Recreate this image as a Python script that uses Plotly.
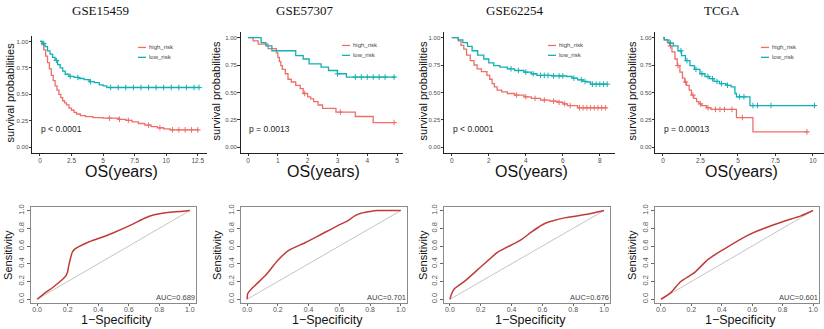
import plotly.graph_objects as go

# ---------------- data ----------------
TITLES = ["GSE15459", "GSE57307", "GSE62254", "TCGA"]
PVALS = ["p < 0.0001", "p = 0.0013", "p < 0.0001", "p = 0.00013"]
AUCS = ["AUC=0.689", "AUC=0.701", "AUC=0.676", "AUC=0.601"]
GROUPS = ["high_risk", "low_risk"]

KM_XTICKS = [[0, 2.5, 5, 7.5, 10, 12.5], [0, 1, 2, 3, 4, 5], [0, 2, 4, 6, 8], [0, 2.5, 5, 7.5, 10]]
KM_XTICKTEXT = [["0", "2.5", "5", "7.5", "10", "12.5"], ["0", "1", "2", "3", "4", "5"],
                ["0", "2", "4", "6", "8"], ["0", "2.5", "5", "7.5", "10"]]
KM_YTICKS = [0, 0.25, 0.5, 0.75, 1.0]
KM_YTICKTEXT = ["0.00", "0.25", "0.50", "0.75", "1.00"]
ROC_TICKS = [0, 0.2, 0.4, 0.6, 0.8, 1.0]
ROC_TICKTEXT = ["0.0", "0.2", "0.4", "0.6", "0.8", "1.0"]
DIAG = [0, 1]

# GSE15459
g1_high_t = [0, 0.15, 0.3, 0.45, 0.6, 0.75, 0.9, 1.05, 1.2, 1.35, 1.5, 1.65, 1.8, 1.95, 2.1, 2.3, 2.5, 2.7,
             2.9, 3.2, 3.6, 4.2, 5.0, 6.2, 6.8, 7.3, 7.8, 8.3, 8.8, 9.3, 9.8, 10.3, 12.6]
g1_high_s = [1.0, 0.97, 0.92, 0.86, 0.80, 0.74, 0.68, 0.63, 0.58, 0.54, 0.50, 0.47, 0.44, 0.42, 0.40, 0.37,
             0.35, 0.33, 0.315, 0.30, 0.29, 0.28, 0.275, 0.265, 0.255, 0.24, 0.225, 0.21, 0.195, 0.185,
             0.175, 0.165, 0.165]
g1_high_c = [5.5, 6.3, 7.0, 8.6, 9.5, 10.5, 11.0, 11.5, 12.0, 12.5]
g1_low_t = [0, 0.2, 0.4, 0.6, 0.8, 1.0, 1.2, 1.4, 1.6, 1.8, 2.0, 2.3, 2.7, 3.1, 3.5, 3.9, 4.3, 4.7, 5.0, 5.3, 12.6]
g1_low_s = [1.0, 0.98, 0.95, 0.91, 0.88, 0.85, 0.82, 0.78, 0.75, 0.72, 0.69, 0.67, 0.66, 0.65, 0.64, 0.62,
            0.61, 0.59, 0.58, 0.565, 0.565]
g1_low_c = [0.3, 1.3, 2.4, 3.0, 4.0, 5.6, 6.2, 6.8, 7.4, 8.0, 8.6, 9.2, 9.8, 10.4, 11.0, 11.6, 12.2, 12.6]

# GSE57307
g2_high_t = [0, 0.17, 0.34, 0.67, 0.95, 1.0, 1.05, 1.1, 1.15, 1.25, 1.34, 1.45, 1.6, 1.75, 1.85, 2.0, 2.1,
             2.2, 2.35, 2.5, 2.95, 3.6, 4.2, 4.95]
g2_high_s = [1.0, 0.97, 0.94, 0.90, 0.86, 0.82, 0.78, 0.745, 0.71, 0.67, 0.62, 0.595, 0.565, 0.535, 0.49,
             0.46, 0.44, 0.415, 0.385, 0.355, 0.32, 0.28, 0.225, 0.225]
g2_high_c = [1.9, 3.1, 4.9]
g2_low_t = [0, 0.44, 0.6, 0.8, 1.6, 1.85, 2.05, 2.45, 2.7, 3.0, 3.3, 4.95]
g2_low_s = [1.0, 0.955, 0.925, 0.88, 0.835, 0.805, 0.76, 0.73, 0.70, 0.67, 0.64, 0.64]
g2_low_c = [3.0, 3.6, 3.8, 4.0, 4.2, 4.4, 4.6, 4.9]

# GSE62254
g3_high_t = [0, 0.35, 0.5, 0.65, 0.8, 1.0, 1.2, 1.37, 1.6, 1.9, 2.05, 2.18, 2.3, 2.45, 2.7, 3.0, 3.4, 3.9,
             4.3, 4.8, 5.3, 5.7, 6.0, 6.25, 6.8, 8.4]
g3_high_s = [1.0, 0.97, 0.93, 0.895, 0.84, 0.79, 0.75, 0.715, 0.69, 0.655, 0.62, 0.58, 0.55, 0.52, 0.505,
             0.49, 0.475, 0.46, 0.445, 0.43, 0.42, 0.41, 0.395, 0.38, 0.36, 0.36]
g3_high_c = [3.5, 4.0, 4.5, 5.0, 5.5, 5.8, 6.1, 6.4, 6.9, 7.1, 7.3, 7.5, 7.7, 7.9, 8.1, 8.3]
g3_low_t = [0, 0.35, 0.6, 0.85, 1.1, 1.4, 1.73, 2.0, 2.27, 2.6, 3.0, 3.4, 3.9, 4.3, 4.6, 5.4, 6.2, 6.5,
            6.8, 7.1, 7.3, 7.5, 8.4]
g3_low_s = [1.0, 0.98, 0.955, 0.92, 0.88, 0.84, 0.805, 0.77, 0.745, 0.73, 0.715, 0.70, 0.685, 0.67, 0.655,
            0.65, 0.645, 0.63, 0.615, 0.60, 0.595, 0.575, 0.575]
g3_low_c = [3.2, 3.6, 4.0, 4.4, 4.8, 5.0, 5.2, 5.5, 5.8, 6.0, 6.6, 7.0, 7.2, 7.6, 7.8, 8.0, 8.2, 8.4]

# TCGA
g4_high_t = [0, 0.09, 0.3, 0.45, 0.6, 0.8, 0.95, 1.13, 1.3, 1.45, 1.57, 1.75, 1.9, 2.05, 2.24, 2.4, 2.58,
             2.9, 3.2, 4.9, 6.0, 9.7]
g4_high_s = [1.0, 0.98, 0.955, 0.925, 0.87, 0.805, 0.745, 0.685, 0.63, 0.595, 0.565, 0.52, 0.475, 0.445,
             0.415, 0.395, 0.38, 0.36, 0.345, 0.27, 0.14, 0.14]
g4_high_c = [0.5, 1.0, 1.5, 2.0, 2.5, 3.0, 3.5, 3.8, 4.1, 4.6, 5.3, 9.6]
g4_low_t = [0, 0.09, 0.4, 0.7, 1.0, 1.24, 1.5, 1.8, 2.1, 2.47, 2.8, 3.1, 3.4, 3.77, 4.2, 4.55, 4.8, 4.9,
            5.8, 10.2]
g4_low_s = [1.0, 0.98, 0.95, 0.925, 0.88, 0.835, 0.79, 0.745, 0.71, 0.67, 0.645, 0.625, 0.60, 0.58, 0.565,
            0.55, 0.49, 0.46, 0.38, 0.38]
g4_low_c = [0.5, 1.2, 1.6, 2.2, 2.6, 3.0, 3.3, 3.6, 3.9, 4.3, 5.1, 5.4, 6.0, 6.3, 7.2, 10.1]

KM = [
    [(g1_high_t, g1_high_s, g1_high_c), (g1_low_t, g1_low_s, g1_low_c)],
    [(g2_high_t, g2_high_s, g2_high_c), (g2_low_t, g2_low_s, g2_low_c)],
    [(g3_high_t, g3_high_s, g3_high_c), (g3_low_t, g3_low_s, g3_low_c)],
    [(g4_high_t, g4_high_s, g4_high_c), (g4_low_t, g4_low_s, g4_low_c)],
]

# ROC curves (1-specificity, sensitivity)
roc1_x = [0, 0.05, 0.1, 0.15, 0.186, 0.2, 0.207, 0.22, 0.23, 0.25, 0.27, 0.33, 0.41, 0.5, 0.63, 0.7, 0.76, 0.82, 0.87, 0.94, 1.0]
roc1_y = [0, 0.07, 0.13, 0.2, 0.26, 0.31, 0.38, 0.47, 0.53, 0.57, 0.59, 0.64, 0.69, 0.75, 0.85, 0.91, 0.95, 0.97, 0.98, 0.99, 1.0]
roc2_x = [0, 0.003, 0.03, 0.12, 0.2, 0.27, 0.38, 0.48, 0.59, 0.65, 0.7, 0.74, 0.8, 0.85, 1.0]
roc2_y = [0, 0.06, 0.12, 0.27, 0.44, 0.55, 0.64, 0.73, 0.83, 0.88, 0.94, 0.97, 0.99, 1.0, 1.0]
roc3_x = [0, 0.01, 0.03, 0.1, 0.21, 0.31, 0.42, 0.47, 0.53, 0.6, 0.64, 0.75, 0.9, 1.0]
roc3_y = [0, 0.06, 0.12, 0.21, 0.38, 0.53, 0.63, 0.68, 0.76, 0.84, 0.87, 0.92, 0.96, 1.0]
roc4_x = [0, 0.065, 0.13, 0.22, 0.31, 0.41, 0.57, 0.68, 0.81, 0.92, 1.0]
roc4_y = [0, 0.075, 0.2, 0.3, 0.45, 0.56, 0.72, 0.80, 0.88, 0.94, 1.0]
ROC = [(roc1_x, roc1_y), (roc2_x, roc2_y), (roc3_x, roc3_y), (roc4_x, roc4_y)]

# ---------------- layout helpers ----------------
W, H = 824, 329
def PX(x): return x / W
def PY(y): return 1 - y / H

RED, TEAL = "#EC6F68", "#12B0B3"
ROC_RED = "#C23A3A"
SANS = "Liberation Sans, Arial, sans-serif"
SERIF = "Liberation Serif, Times New Roman, serif"

km_dom_x = [(32, 207), (240.6, 403), (444, 615), (655.3, 823.6)]
km_dom_y = [(151.5, 33.5), (151.5, 29.5), (151.5, 29.5), (151.5, 29.5)]
km_xrange = [(-0.63, 13.23), (-0.25, 5.2), (-0.42, 8.82), (-0.51, 10.71)]
km_ytitle_x = [10, 216, 423, 632]
km_title_x = [100, 305, 515, 722]
leg_x = [138, 342, 548, 761]
leg_y = [45, 43, 43, 45]

roc_dom_x = [(31, 196), (241, 407), (443.8, 610.2), (654.9, 819.1)]
roc_dom_y = (303.5, 206.5)
roc_ytitle_x = [8, 217, 423, 632]

fig = go.Figure()
layout = dict(width=W, height=H, margin=dict(l=0, r=0, t=0, b=0), showlegend=False,
              plot_bgcolor="white", paper_bgcolor="white", font=dict(family=SANS))
annotations, shapes = [], []


def ann(text, x, y, size, color="#111", family=SANS, angle=0, xanchor="center", yanchor="middle",
        xref="paper", yref="paper"):
    return dict(text=text, x=x, y=y, xref=xref, yref=yref, showarrow=False, textangle=angle,
                xanchor=xanchor, yanchor=yanchor, borderpad=0,
                font=dict(family=family, size=size, color=color))


def step_value(ts, ss, c):
    v = ss[0]
    for t, s in zip(ts, ss):
        if t <= c:
            v = s
    return v


for i in range(4):
    xa, ya = f"x{2*i+1}", f"y{2*i+1}"
    xk, yk = f"xaxis{2*i+1}", f"yaxis{2*i+1}"
    for (ts, ss, cs), col in zip(KM[i], [RED, TEAL]):
        fig.add_trace(go.Scatter(x=ts, y=ss, mode="lines", line=dict(color=col, width=1.3, shape="hv"),
                                 xaxis=xa, yaxis=ya, hoverinfo="skip"))
        fig.add_trace(go.Scatter(x=cs, y=[step_value(ts, ss, c) for c in cs], mode="markers",
                                 marker=dict(symbol="cross-thin-open", size=4, color=col,
                                             line=dict(color=col, width=1)),
                                 xaxis=xa, yaxis=ya, hoverinfo="skip"))
    layout[xk] = dict(domain=[PX(km_dom_x[i][0]), PX(km_dom_x[i][1])], range=list(km_xrange[i]),
                      anchor=ya, showgrid=False, zeroline=False, showline=True, linecolor="#222",
                      linewidth=1, ticks="outside", ticklen=2.5, tickcolor="#333", ticklabelstandoff=-1,
                      tickvals=KM_XTICKS[i], ticktext=KM_XTICKTEXT[i],
                      tickfont=dict(size=6.5, color="#4d4d4d"))
    layout[yk] = dict(domain=[PY(km_dom_y[i][0]), PY(km_dom_y[i][1])], range=[-0.05, 1.05],
                      anchor=xa, showgrid=False, zeroline=False, showline=True, linecolor="#222",
                      linewidth=1, ticks="outside", ticklen=2.5, tickcolor="#333", ticklabelstandoff=-1,
                      tickvals=KM_YTICKS, ticktext=KM_YTICKTEXT,
                      tickfont=dict(size=6, color="#4d4d4d"))
    annotations.append(ann(TITLES[i], PX(km_title_x[i]), PY(8), 13, family=SERIF))
    annotations.append(ann("survival probabilities", PX(km_ytitle_x[i]),
                           PY((km_dom_y[i][0] + km_dom_y[i][1]) / 2 - 2), 11, angle=-90))
    annotations.append(ann("OS(years)", PX((km_dom_x[i][0] + km_dom_x[i][1]) / 2 + 2), PY(171), 16))
    annotations.append(ann(PVALS[i], 0, 0.17, 8.5, color="#222", xanchor="left", xref=xa, yref=ya))
    for j, (g, col) in enumerate(zip(GROUPS, [RED, TEAL])):
        yy = leg_y[i] + 10 * j
        shapes.append(dict(type="line", xref="paper", yref="paper", x0=PX(leg_x[i]), x1=PX(leg_x[i] + 8),
                           y0=PY(yy), y1=PY(yy), line=dict(color=col, width=1.3)))
        annotations.append(ann(g, PX(leg_x[i] + 10), PY(yy), 6, color="#444", xanchor="left"))

    # ROC panel
    xa2, ya2 = f"x{2*i+2}", f"y{2*i+2}"
    xk2, yk2 = f"xaxis{2*i+2}", f"yaxis{2*i+2}"
    fig.add_trace(go.Scatter(x=DIAG, y=DIAG, mode="lines", line=dict(color="#c4c4c4", width=1),
                             xaxis=xa2, yaxis=ya2, hoverinfo="skip"))
    fig.add_trace(go.Scatter(x=ROC[i][0], y=ROC[i][1], mode="lines",
                             line=dict(color=ROC_RED, width=1.5, shape="spline", smoothing=0.6),
                             xaxis=xa2, yaxis=ya2, hoverinfo="skip"))
    layout[xk2] = dict(domain=[PX(roc_dom_x[i][0]), PX(roc_dom_x[i][1])], range=[-0.04, 1.04],
                       anchor=ya2, showgrid=False, zeroline=False, showline=True, mirror=True,
                       linecolor="#8a8a8a", linewidth=1.2, ticks="outside", ticklen=2, tickcolor="#666",
                       ticklabelstandoff=-2,
                       tickvals=ROC_TICKS, ticktext=ROC_TICKTEXT, tickfont=dict(size=7, color="#555"))
    layout[yk2] = dict(domain=[PY(roc_dom_y[0]), PY(roc_dom_y[1])], range=[-0.04, 1.04],
                       anchor=xa2, showgrid=False, zeroline=False, showline=True, mirror=True,
                       linecolor="#8a8a8a", linewidth=1.2, ticks="outside", ticklen=2.5, tickcolor="#666",
                       tickvals=ROC_TICKS, ticktext=ROC_TICKTEXT, tickangle=-90,
                       tickfont=dict(size=7.5, color="#555"))
    annotations.append(ann("1\u2212Specificity", PX((roc_dom_x[i][0] + roc_dom_x[i][1]) / 2 + 3),
                           PY(321), 12.5))
    annotations.append(ann("Sensitivity", PX(roc_ytitle_x[i]), PY(255), 11, angle=-90))
    annotations.append(ann(AUCS[i], 1.04, -0.04, 7.5, color="#444", xanchor="right", yanchor="bottom",
                           xref=xa2, yref=ya2))

layout["annotations"] = annotations
layout["shapes"] = shapes
fig.update_layout(**layout)
fig.write_html("out.html", config={"displayModeBar": False},
               post_script="document.body.style.margin='0';document.body.style.overflow='hidden';")
